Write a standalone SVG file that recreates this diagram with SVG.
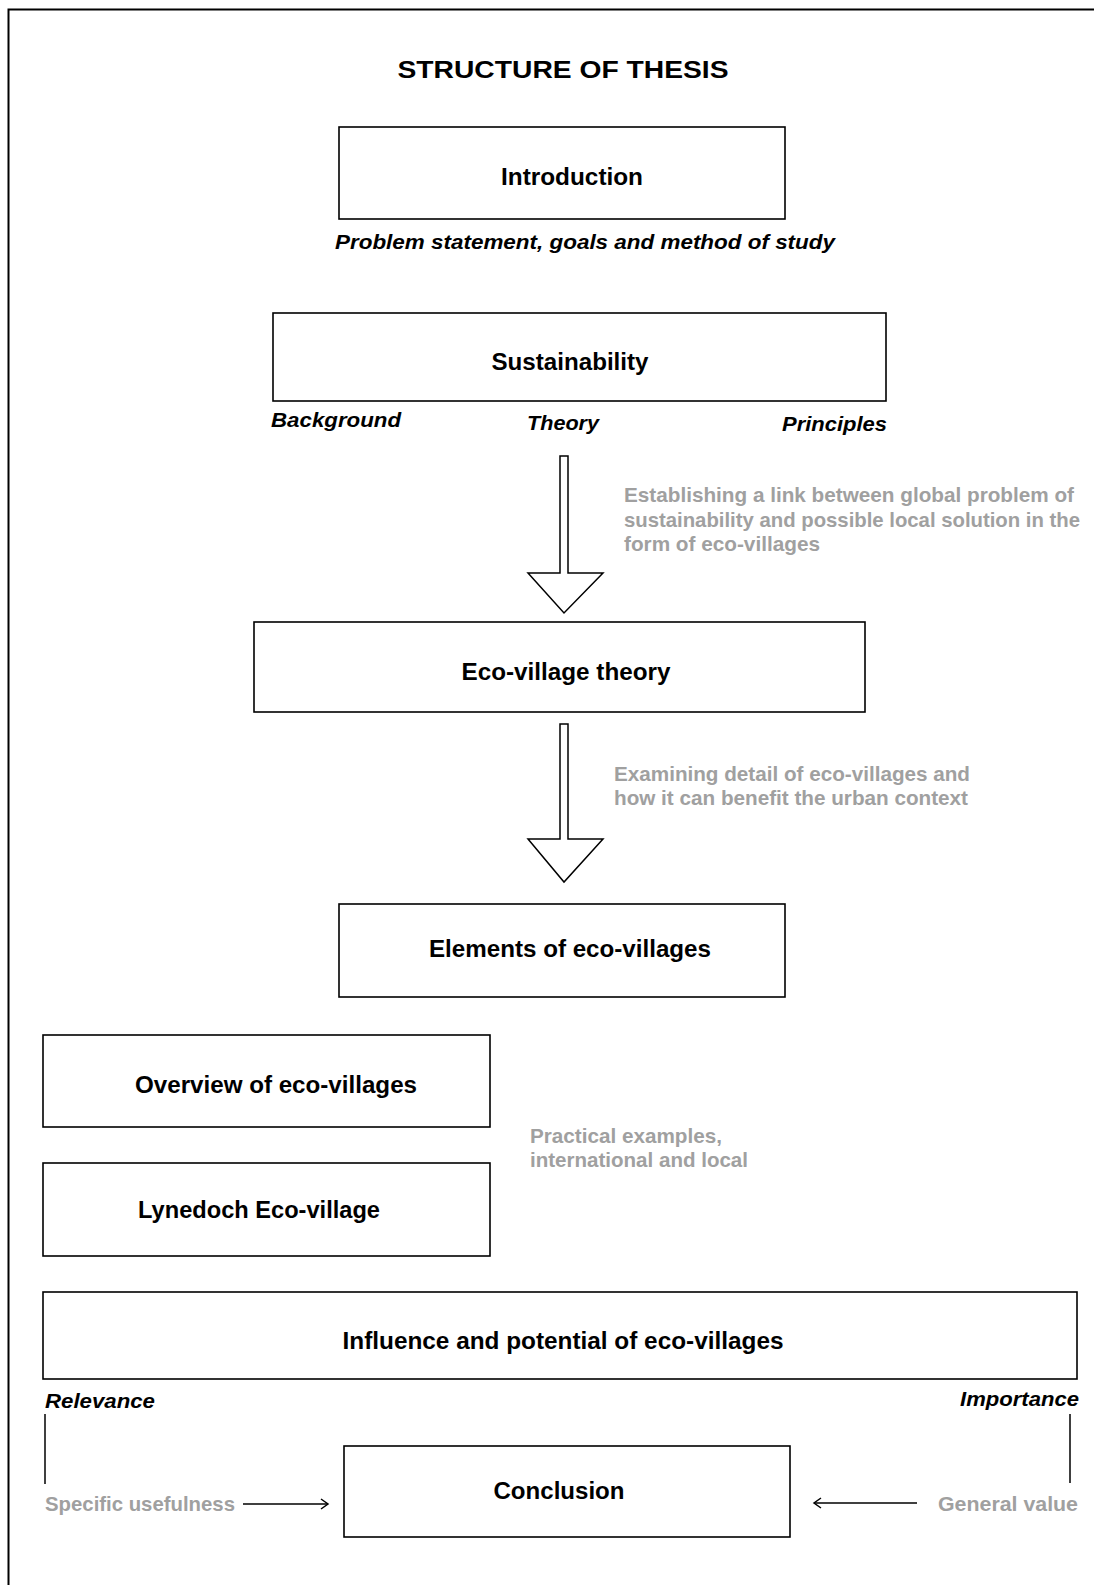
<svg xmlns="http://www.w3.org/2000/svg" width="1094" height="1585" viewBox="0 0 1094 1585">
<defs>
<style>
.box{fill:#fff;stroke:#000;stroke-width:1.6}
.lbl{font-family:"Liberation Sans",Arial,sans-serif;font-weight:bold;font-size:23px;fill:#000;text-anchor:middle}
.it{font-family:"Liberation Sans",Arial,sans-serif;font-weight:bold;font-style:italic;font-size:20px;fill:#000}
.gray{font-family:"Liberation Sans",Arial,sans-serif;font-weight:bold;font-size:21px;fill:#a0a0a0}
.ln{stroke:#000;stroke-width:1.5;fill:none}
.big{fill:#fff;stroke:#000;stroke-width:1.5}
</style>
<marker id="open" markerWidth="12" markerHeight="12" refX="10" refY="6" orient="auto" markerUnits="userSpaceOnUse">
<polyline points="3,1 10,6 3,11" fill="none" stroke="#000" stroke-width="1.5"/>
</marker>
</defs>
<rect width="1094" height="1585" fill="#fff"/>
<path d="M8.5,1585 V9.5 H1094" fill="none" stroke="#000" stroke-width="2"/>
<text x="563" y="78" class="lbl" font-size="27" textLength="331" lengthAdjust="spacingAndGlyphs">STRUCTURE OF THESIS</text>

<g id="introduction">
<rect class="box" x="339" y="127" width="446" height="92"/>
<text class="lbl" x="572" y="185" textLength="142" lengthAdjust="spacingAndGlyphs">Introduction</text>
<text class="it" x="335" y="249" textLength="500" lengthAdjust="spacingAndGlyphs">Problem statement, goals and method of study</text>
</g>

<g id="sustainability">
<rect class="box" x="273" y="313" width="613" height="88"/>
<text class="lbl" x="570" y="370" textLength="157" lengthAdjust="spacingAndGlyphs">Sustainability</text>
<text class="it" x="271" y="427" textLength="130" lengthAdjust="spacingAndGlyphs">Background</text>
<text class="it" x="527" y="430" textLength="72" lengthAdjust="spacingAndGlyphs">Theory</text>
<text class="it" x="782" y="431" textLength="105" lengthAdjust="spacingAndGlyphs">Principles</text>
</g>

<g id="eco-village-theory">
<rect class="box" x="254" y="622" width="611" height="90"/>
<text class="lbl" x="566" y="680" textLength="209" lengthAdjust="spacingAndGlyphs">Eco-village theory</text>
</g>

<g id="elements">
<rect class="box" x="339" y="904" width="446" height="93"/>
<text class="lbl" x="570" y="957" textLength="282" lengthAdjust="spacingAndGlyphs">Elements of eco-villages</text>
</g>

<g id="overview">
<rect class="box" x="43" y="1035" width="447" height="92"/>
<text class="lbl" x="276" y="1093" textLength="282" lengthAdjust="spacingAndGlyphs">Overview of eco-villages</text>
</g>

<g id="lynedoch">
<rect class="box" x="43" y="1163" width="447" height="93"/>
<text class="lbl" x="259" y="1218" textLength="242" lengthAdjust="spacingAndGlyphs">Lynedoch Eco-village</text>
</g>

<g id="influence">
<rect class="box" x="43" y="1292" width="1034" height="87"/>
<text class="lbl" x="563" y="1349" textLength="441" lengthAdjust="spacingAndGlyphs">Influence and potential of eco-villages</text>
<text class="it" x="45" y="1408" textLength="110" lengthAdjust="spacingAndGlyphs">Relevance</text>
<text class="it" x="960" y="1406" textLength="119" lengthAdjust="spacingAndGlyphs">Importance</text>
</g>

<g id="conclusion">
<rect class="box" x="344" y="1446" width="446" height="91"/>
<text class="lbl" x="559" y="1499" textLength="131" lengthAdjust="spacingAndGlyphs">Conclusion</text>
</g>

<g id="notes">
<text class="gray" x="624" y="502" textLength="450" lengthAdjust="spacingAndGlyphs">Establishing a link between global problem of</text>
<text class="gray" x="624" y="527" textLength="456" lengthAdjust="spacingAndGlyphs">sustainability and possible local solution in the</text>
<text class="gray" x="624" y="551" textLength="196" lengthAdjust="spacingAndGlyphs">form of eco-villages</text>
<text class="gray" x="614" y="781" textLength="356" lengthAdjust="spacingAndGlyphs">Examining detail of eco-villages and</text>
<text class="gray" x="614" y="805" textLength="354" lengthAdjust="spacingAndGlyphs">how it can benefit the urban context</text>
<text class="gray" x="530" y="1143" textLength="192" lengthAdjust="spacingAndGlyphs">Practical examples,</text>
<text class="gray" x="530" y="1167" textLength="218" lengthAdjust="spacingAndGlyphs">international and local</text>
<text class="gray" x="45" y="1511" textLength="190" lengthAdjust="spacingAndGlyphs">Specific usefulness</text>
<text class="gray" x="938" y="1511" textLength="140" lengthAdjust="spacingAndGlyphs">General value</text>
</g>

<g id="connectors">
<polygon class="big" points="560,456 568,456 568,573 603,573 564,613 528,573 560,573"/>
<polygon class="big" points="560,724 568,724 568,839 603,839 564,882 528,839 560,839"/>
<line class="ln" x1="45" y1="1414" x2="45" y2="1484"/>
<line class="ln" x1="1070" y1="1414" x2="1070" y2="1483"/>
<line class="ln" x1="243" y1="1504" x2="328" y2="1504" marker-end="url(#open)"/>
<line class="ln" x1="917" y1="1503" x2="814" y2="1503" marker-end="url(#open)"/>
</g>
</svg>
